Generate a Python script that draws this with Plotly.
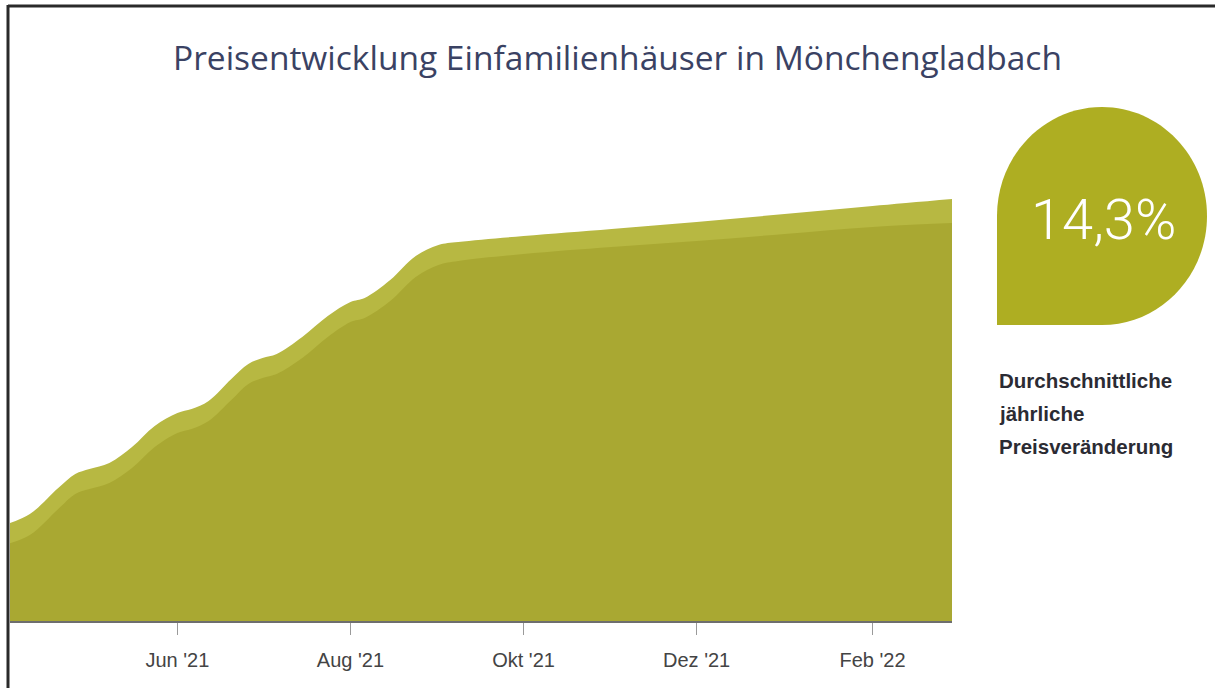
import plotly.graph_objects as go

# ---------------- data ----------------
dates = ["2021-04-01", "2021-04-10", "2021-04-20", "2021-04-26", "2021-05-01", "2021-05-08",
         "2021-05-16", "2021-05-24", "2021-06-01", "2021-06-06", "2021-06-12", "2021-06-20",
         "2021-06-26", "2021-07-01", "2021-07-06", "2021-07-15", "2021-07-24", "2021-08-01",
         "2021-08-06", "2021-08-15", "2021-08-24", "2021-09-01", "2021-09-08", "2021-10-01",
         "2021-11-01", "2021-12-01", "2022-01-01", "2022-02-01", "2022-03-01"]
index_upper = [96, 107, 133, 147, 152, 158, 174, 195, 208, 212, 220, 242, 257, 263, 267, 284,
               305, 319, 323, 341, 365, 376, 379, 385, 392, 399, 407, 415, 422]
index_lower = [76, 86, 112, 127, 132, 138, 153, 174, 188, 192, 200, 221, 237, 243, 247, 263,
               284, 299, 303, 320, 344, 356, 360, 367, 374, 380, 387, 394, 398]

tick_dates = ["2021-06-01", "2021-08-01", "2021-10-01", "2021-12-01", "2022-02-01"]
tick_labels = ["Jun '21", "Aug '21", "Okt '21", "Dez '21", "Feb '22"]

title_text = "Preisentwicklung Einfamilienhäuser in Mönchengladbach"
kpi_text = "14,3%"
kpi_caption = ["Durchschnittliche", "jährliche", "Preisveränderung"]

# ---------------- layout geometry ----------------
W, H = 1215, 688
ML, MR, MT, MB = 10, 263, 100, 67
PW = W - ML - MR
PH = H - MT - MB


def px(x):
    return (x - ML) / PW


def py(y):
    return (H - MB - y) / PH


fig = go.Figure()

fig.add_trace(go.Scatter(
    x=dates, y=index_upper, mode="lines",
    line=dict(color="#b7b842", width=0, shape="spline", smoothing=1.0),
    fill="tozeroy", fillcolor="#b7b842", hoverinfo="skip", showlegend=False))
fig.add_trace(go.Scatter(
    x=dates, y=index_lower, mode="lines",
    line=dict(color="#a9a832", width=0, shape="spline", smoothing=1.0),
    fill="tozeroy", fillcolor="#a9a832", hoverinfo="skip", showlegend=False))

# teardrop shape (pixel geometry -> paper)
x0, x1, y0, y1 = 997, 1207, 107, 325
cx, cy = (x0 + x1) / 2, (y0 + y1) / 2
rx, ry = (x1 - x0) / 2, (y1 - y0) / 2
k = 0.5523


def P(x, y):
    return f"{px(x):.5f},{py(y):.5f}"


path = (
    f"M {P(x0, y1)} L {P(x0, cy)} "
    f"C {P(x0, cy - k * ry)} {P(cx - k * rx, y0)} {P(cx, y0)} "
    f"C {P(cx + k * rx, y0)} {P(x1, cy - k * ry)} {P(x1, cy)} "
    f"C {P(x1, cy + k * ry)} {P(cx + k * rx, y1)} {P(cx, y1)} Z"
)

shapes = [
    dict(type="path", xref="paper", yref="paper", path=path,
         fillcolor="#aeae22", line=dict(width=0), layer="above"),
    dict(type="line", xref="paper", yref="paper", x0=px(8), x1=px(1215), y0=py(6), y1=py(6),
         line=dict(color="#2a2a2a", width=3)),
    dict(type="line", xref="paper", yref="paper", x0=px(8), x1=px(8), y0=py(5), y1=py(688),
         line=dict(color="#2a2a2a", width=3)),
]

annotations = [
    dict(text=title_text, xref="paper", yref="paper", x=px(617), y=py(57),
         xanchor="center", yanchor="middle", showarrow=False,
         font=dict(family="Open Sans", size=33.5, color="#3a4263")),
    dict(text=kpi_text, xref="paper", yref="paper", x=px(1103), y=py(220),
         xanchor="center", yanchor="middle", showarrow=False,
         font=dict(family="Roboto", size=56, color="#ffffff", weight=300)),
]
for i, line in enumerate(kpi_caption):
    annotations.append(dict(text=f"<b>{line}</b>", xref="paper", yref="paper", x=px(997),
                            y=py(380 + i * 33), xanchor="left", yanchor="middle", showarrow=False,
                            font=dict(family="Liberation Sans", size=20.5, color="#2b2b33")))

fig.update_layout(
    width=W, height=H,
    margin=dict(l=ML, r=MR, t=MT, b=MB),
    paper_bgcolor="white", plot_bgcolor="white",
    shapes=shapes, annotations=annotations,
    xaxis=dict(type="date", range=["2021-04-03", "2022-03-01"], tickvals=tick_dates, ticktext=tick_labels,
               ticks="outside", ticklen=12, tickcolor="#9a9a9a", tickwidth=1, ticklabelstandoff=8,
               showline=True, linecolor="#6e6e6e", linewidth=2, showgrid=False, zeroline=False,
               tickfont=dict(family="Liberation Sans", size=20, color="#444444")),
    yaxis=dict(range=[0, PH], visible=False, showgrid=False, zeroline=False),
    showlegend=False,
)

fig.write_html("out.html")
